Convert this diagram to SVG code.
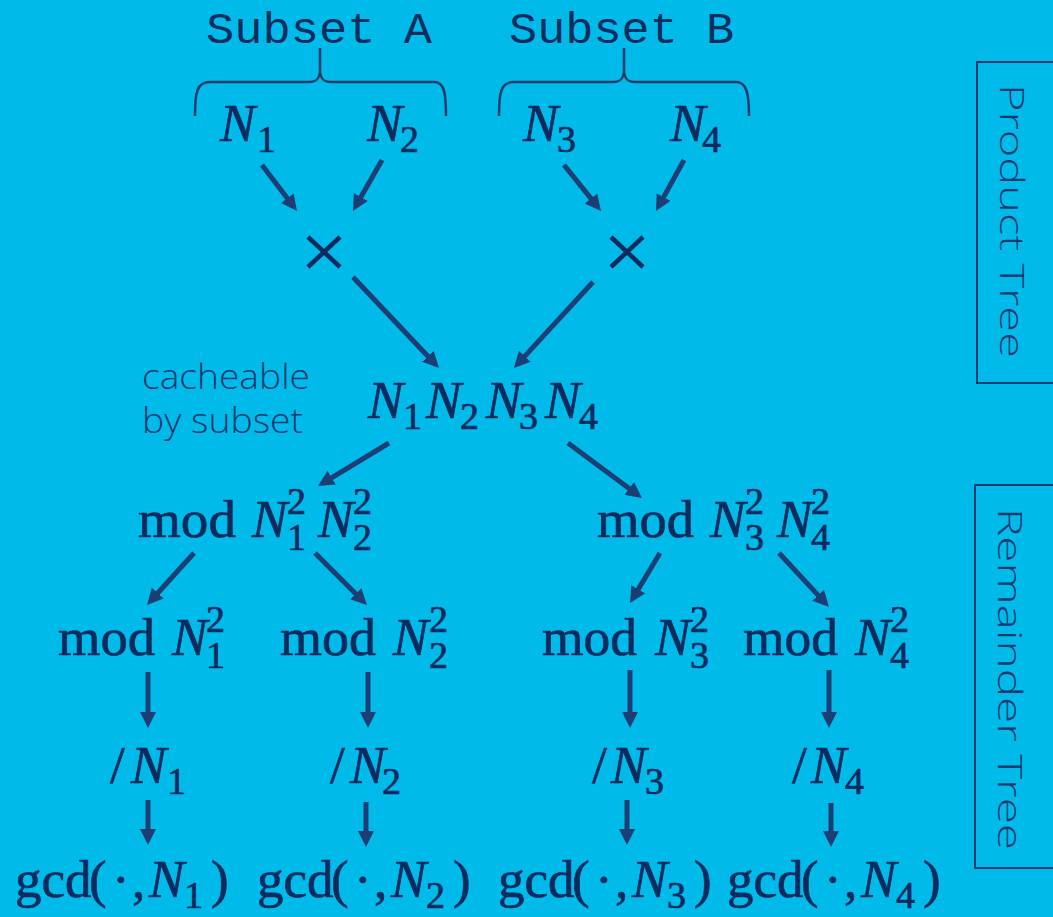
<svg xmlns="http://www.w3.org/2000/svg" width="1053" height="917" viewBox="0 0 1053 917">
<style>
.m{font-family:"Liberation Serif",serif;font-size:53px;fill:#0B2A5E;stroke:#0B2A5E;stroke-width:0.7}
.i{font-style:italic}
.s{font-size:38px;font-style:normal}
.mono{font-family:"Liberation Mono",monospace;font-size:44px;fill:#0E2C5E}
.lbl{font-family:"Open Sans","Liberation Sans",sans-serif;font-weight:300;fill:#15386E}
.arr{stroke:#1D3E74;stroke-width:5;fill:none;marker-end:url(#ah)}
.brace{stroke:#1B3A6E;stroke-width:2.5;fill:none}
.box{stroke:#1B3A6E;stroke-width:2;fill:none}
.x{stroke:#0B2A5E;stroke-width:4.5}
</style>
<defs>
<marker id="ah" markerUnits="userSpaceOnUse" markerWidth="16" markerHeight="16" refX="5" refY="8" orient="auto"><path d="M0,0 L16,8 L0,16 z" fill="#1D3E74"/></marker>
</defs>
<rect width="1053" height="917" fill="#00BBEA"/>

<g id="side-labels">
<rect class="box" x="977" y="62" width="90" height="321"/>
<text class="lbl" font-size="33" transform="translate(1000,84) rotate(90)" textLength="274" lengthAdjust="spacingAndGlyphs">Product Tree</text>
<rect class="box" x="975" y="485" width="92" height="383"/>
<text class="lbl" font-size="33" transform="translate(998,508) rotate(90)" textLength="342" lengthAdjust="spacingAndGlyphs">Remainder Tree</text>
</g>

<g id="subsetA">
<text class="mono" x="206" y="43" textLength="226" lengthAdjust="spacingAndGlyphs">Subset A</text>
<path class="brace" d="M195,116 C195,92 197,82 210,82 L308,82 C317,82 320,78 320,70 L320,48 M320,70 C320,78 323,82 332,82 L434,82 C444,82 446,92 446,116"/>
</g>
<g id="subsetB">
<text class="mono" x="509" y="43" textLength="225" lengthAdjust="spacingAndGlyphs">Subset B</text>
<path class="brace" d="M499,116 C499,92 501,82 514,82 L612,82 C621,82 624,78 624,70 L624,48 M624,70 C624,78 627,82 636,82 L736,82 C746,82 749,92 749,116"/>
</g>

<g id="n1"><text class="m"><tspan class="i" x="220" y="141">N</tspan><tspan class="s" x="257" y="152">1</tspan></text></g>
<g id="n2"><text class="m"><tspan class="i" x="367" y="141">N</tspan><tspan class="s" x="400" y="152">2</tspan></text></g>
<g id="n3"><text class="m"><tspan class="i" x="523" y="141">N</tspan><tspan class="s" x="557" y="152">3</tspan></text></g>
<g id="n4"><text class="m"><tspan class="i" x="670" y="141">N</tspan><tspan class="s" x="702" y="152">4</tspan></text></g>

<g id="timesA"><path class="x" d="M308,237 L340,267 M340,237 L308,267"/></g>
<g id="timesB"><path class="x" d="M611,237 L643,267 M643,237 L611,267"/></g>

<g id="cacheable">
<text class="lbl" font-size="34" x="142" y="389" textLength="168" lengthAdjust="spacingAndGlyphs">cacheable</text>
<text class="lbl" font-size="34" x="142" y="433" textLength="161" lengthAdjust="spacingAndGlyphs">by subset</text>
</g>

<g id="prod">
<text class="m"><tspan class="i" x="368" y="418">N</tspan><tspan class="s" x="403" y="429">1</tspan><tspan class="i" x="426" y="418">N</tspan><tspan class="s" x="460" y="429">2</tspan><tspan class="i" x="486" y="418">N</tspan><tspan class="s" x="519" y="429">3</tspan><tspan class="i" x="545" y="418">N</tspan><tspan class="s" x="579" y="429">4</tspan></text>
</g>

<g id="mod12">
<text class="m"><tspan x="138" y="537" textLength="98" lengthAdjust="spacingAndGlyphs">mod</tspan><tspan class="i" x="252" y="537">N</tspan><tspan class="s" x="287" y="514">2</tspan><tspan class="s" x="287" y="550">1</tspan><tspan class="i" x="318" y="537">N</tspan><tspan class="s" x="353" y="514">2</tspan><tspan class="s" x="353" y="550">2</tspan></text>
</g>
<g id="mod34">
<text class="m"><tspan x="597" y="537" textLength="97" lengthAdjust="spacingAndGlyphs">mod</tspan><tspan class="i" x="710" y="537">N</tspan><tspan class="s" x="745" y="514">2</tspan><tspan class="s" x="745" y="550">3</tspan><tspan class="i" x="777" y="537">N</tspan><tspan class="s" x="811" y="514">2</tspan><tspan class="s" x="811" y="550">4</tspan></text>
</g>

<g id="mod1"><text class="m"><tspan x="58" y="655" textLength="97" lengthAdjust="spacingAndGlyphs">mod</tspan><tspan class="i" x="172" y="655">N</tspan><tspan class="s" x="206" y="632">2</tspan><tspan class="s" x="206" y="668">1</tspan></text></g>
<g id="mod2"><text class="m"><tspan x="280" y="655" textLength="96" lengthAdjust="spacingAndGlyphs">mod</tspan><tspan class="i" x="393" y="655">N</tspan><tspan class="s" x="429" y="632">2</tspan><tspan class="s" x="429" y="668">2</tspan></text></g>
<g id="mod3"><text class="m"><tspan x="542" y="655" textLength="95" lengthAdjust="spacingAndGlyphs">mod</tspan><tspan class="i" x="655" y="655">N</tspan><tspan class="s" x="690" y="632">2</tspan><tspan class="s" x="690" y="668">3</tspan></text></g>
<g id="mod4"><text class="m"><tspan x="743" y="655" textLength="95" lengthAdjust="spacingAndGlyphs">mod</tspan><tspan class="i" x="855" y="655">N</tspan><tspan class="s" x="890" y="632">2</tspan><tspan class="s" x="890" y="668">4</tspan></text></g>

<g id="div1"><text class="m"><tspan x="110" y="783">/</tspan><tspan class="i" x="131" y="783">N</tspan><tspan class="s" x="167" y="794">1</tspan></text></g>
<g id="div2"><text class="m"><tspan x="330" y="783">/</tspan><tspan class="i" x="350" y="783">N</tspan><tspan class="s" x="382" y="794">2</tspan></text></g>
<g id="div3"><text class="m"><tspan x="592" y="783">/</tspan><tspan class="i" x="611" y="783">N</tspan><tspan class="s" x="645" y="794">3</tspan></text></g>
<g id="div4"><text class="m"><tspan x="792" y="783">/</tspan><tspan class="i" x="811" y="783">N</tspan><tspan class="s" x="845" y="794">4</tspan></text></g>

<g id="gcd1"><text class="m"><tspan x="15" y="897">gcd</tspan><tspan x="89" y="897">(</tspan><tspan x="112" y="897">·</tspan><tspan x="132" y="897">,</tspan><tspan class="i" x="149" y="897">N</tspan><tspan class="s" x="184" y="908">1</tspan><tspan x="211" y="897">)</tspan></text></g>
<g id="gcd2"><text class="m"><tspan x="257" y="897">gcd</tspan><tspan x="331" y="897">(</tspan><tspan x="354" y="897">·</tspan><tspan x="374" y="897">,</tspan><tspan class="i" x="391" y="897">N</tspan><tspan class="s" x="426" y="908">2</tspan><tspan x="453" y="897">)</tspan></text></g>
<g id="gcd3"><text class="m"><tspan x="498" y="897">gcd</tspan><tspan x="572" y="897">(</tspan><tspan x="595" y="897">·</tspan><tspan x="615" y="897">,</tspan><tspan class="i" x="632" y="897">N</tspan><tspan class="s" x="667" y="908">3</tspan><tspan x="694" y="897">)</tspan></text></g>
<g id="gcd4"><text class="m"><tspan x="727" y="897">gcd</tspan><tspan x="801" y="897">(</tspan><tspan x="824" y="897">·</tspan><tspan x="844" y="897">,</tspan><tspan class="i" x="861" y="897">N</tspan><tspan class="s" x="896" y="908">4</tspan><tspan x="923" y="897">)</tspan></text></g>

<g id="connectors">
<path class="arr" d="M262,165 L290.3,202.2"/>
<path class="arr" d="M382,160 L358.4,201.4"/>
<path class="arr" d="M564,165 L594.1,202.4"/>
<path class="arr" d="M684,160 L661.3,201.4"/>
<path class="arr" d="M353,277 L431.4,360"/>
<path class="arr" d="M593,282 L521.4,359.9"/>
<path class="arr" d="M389,443 L327.4,480.3"/>
<path class="arr" d="M568,443 L633.2,491.4"/>
<path class="arr" d="M194,553 L154.4,596.8"/>
<path class="arr" d="M315,553 L359.2,597.2"/>
<path class="arr" d="M660,553 L635.7,593.6"/>
<path class="arr" d="M779,553 L821.5,598.9"/>
<path class="arr" d="M148,672 L148,717"/>
<path class="arr" d="M368,672 L368,717"/>
<path class="arr" d="M630,670 L630,717"/>
<path class="arr" d="M829,670 L829,717"/>
<path class="arr" d="M148,800 L148,834"/>
<path class="arr" d="M366,802 L366,836"/>
<path class="arr" d="M627,800 L627,834"/>
<path class="arr" d="M831,803 L831,836"/>
</g>
</svg>
